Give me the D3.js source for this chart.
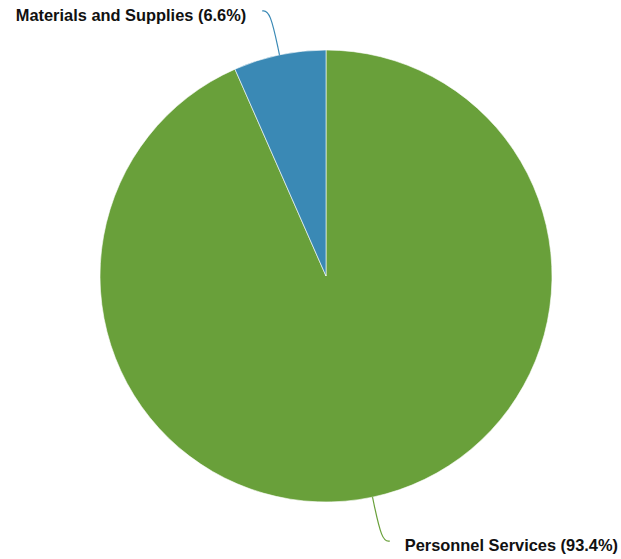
<!DOCTYPE html>
<html><head><meta charset="utf-8">
<script src="https://cdn.jsdelivr.net/npm/d3@7"></script>
<style>html,body{margin:0;padding:0;background:#fff;}</style>
</head><body>
<svg id="chart" width="621" height="559"></svg>
<script>
const categories = ["Personnel Services", "Materials and Supplies"];
const values = [93.4, 6.6];
const colors = ["#69a03a", "#3a89b5"];

const svg = d3.select("#chart");
const cx = 326, cy = 276, r = 226;
const g = svg.append("g").attr("transform", `translate(${cx},${cy})`);

const data = categories.map((c, i) => ({ label: c, value: values[i], color: colors[i] }));
const pie = d3.pie().value(d => d.value).sort(null);
const arcs = pie(data);
const arc = d3.arc().innerRadius(0).outerRadius(r);

g.selectAll("path.slice").data(arcs).join("path")
  .attr("class", "slice")
  .attr("d", arc)
  .attr("fill", d => d.data.color)
  .attr("stroke", "#ffffff")
  .attr("stroke-width", 0.6);

const total = d3.sum(values);
const line = d3.line().curve(d3.curveBasis);
arcs.forEach(a => {
  const mid = (a.startAngle + a.endAngle) / 2;
  const sx = Math.sin(mid), sy = -Math.cos(mid);
  const p0 = [sx * r, sy * r];
  const p1 = [sx * (r + 45), sy * (r + 45)];
  const right = sx >= 0;
  const p2 = [p1[0] + (right ? 8 : -8), p1[1]];
  g.append("path")
    .attr("d", line([p0, p1, p2]))
    .attr("fill", "none")
    .attr("stroke", a.data.color)
    .attr("stroke-width", 1.2);
  const pct = (a.data.value / total * 100).toFixed(1);
  g.append("text")
    .attr("x", p2[0] + (right ? 15 : -16))
    .attr("y", p2[1] + 4)
    .attr("dy", "0.35em")
    .attr("text-anchor", right ? "start" : "end")
    .attr("font-family", "'Liberation Sans', Arial, Helvetica, sans-serif")
    .attr("font-weight", "bold")
    .attr("font-size", "16.4px")
    .attr("fill", "#111")
    .text(`${a.data.label} (${pct}%)`);
});
</script>
</body></html>
